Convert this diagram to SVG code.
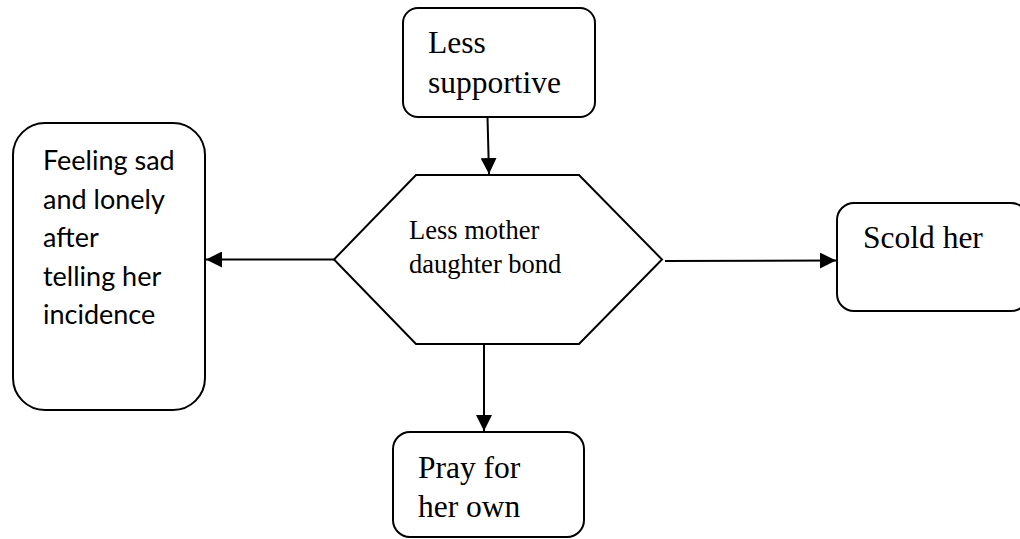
<svg xmlns="http://www.w3.org/2000/svg" width="1020" height="539" viewBox="0 0 1020 539">
<style>
.box{fill:#fff;stroke:#000;stroke-width:2}
.con{fill:none;stroke:#000;stroke-width:2}
.tr{font-family:"Liberation Serif","Times New Roman",serif;fill:#000}
.ca{font-family:Lato,"Liberation Sans",sans-serif;fill:#000;font-size:27px}
</style>
<defs>
<marker id="ah" viewBox="0 0 16 16" refX="16" refY="8" markerWidth="16" markerHeight="16" markerUnits="userSpaceOnUse" orient="auto">
<path d="M0,0 L16,8 L0,16 Z" fill="#000"/>
</marker>
</defs>
<rect width="1020" height="539" fill="#fff"/>
<g id="connectors">
<line class="con" x1="487.5" y1="117" x2="489" y2="174" marker-end="url(#ah)"/>
<line class="con" x1="334" y1="259.5" x2="206" y2="259.5" marker-end="url(#ah)"/>
<line class="con" x1="665" y1="261" x2="836" y2="260.5" marker-end="url(#ah)"/>
<line class="con" x1="484" y1="345" x2="484" y2="431" marker-end="url(#ah)"/>
</g>
<g id="node-less-supportive">
<rect class="box" x="403" y="8" width="192" height="109" rx="15"/>
<text class="tr" font-size="31.5" x="428" y="53">Less</text>
<text class="tr" font-size="31.5" x="428" y="93">supportive</text>
</g>
<g id="node-bond">
<polygon class="box" points="416,175 579,175 662,259.5 579,344 416,344 334,259.5"/>
<text class="tr" font-size="26.5" x="409" y="239">Less mother</text>
<text class="tr" font-size="26.5" x="409" y="273">daughter bond</text>
</g>
<g id="node-feeling">
<rect class="box" x="13" y="123" width="192" height="287" rx="32"/>
<text class="ca" x="43" y="170">Feeling sad</text>
<text class="ca" x="43" y="209">and lonely</text>
<text class="ca" x="43" y="247">after</text>
<text class="ca" x="43" y="286">telling her</text>
<text class="ca" x="43" y="324">incidence</text>
</g>
<g id="node-scold">
<rect class="box" x="837" y="203" width="191" height="108" rx="17"/>
<text class="tr" font-size="31.5" x="863" y="248">Scold her</text>
</g>
<g id="node-pray">
<rect class="box" x="393" y="432" width="191" height="105" rx="17"/>
<text class="tr" font-size="31.5" x="418" y="478">Pray for</text>
<text class="tr" font-size="31.5" x="418" y="517">her own</text>
</g>
</svg>
